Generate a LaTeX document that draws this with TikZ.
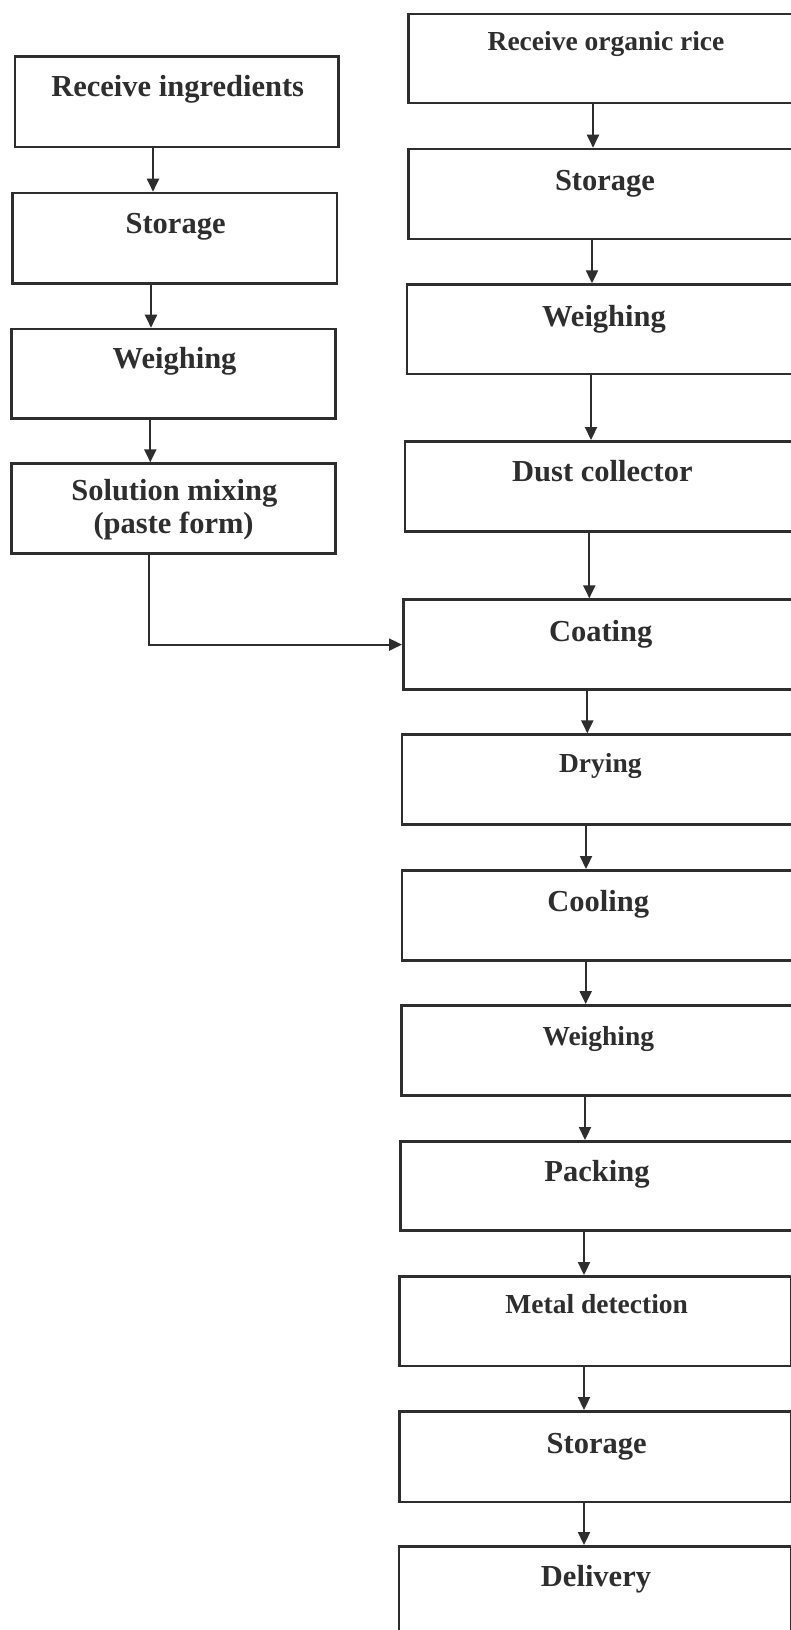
\documentclass[tikz,border=0pt]{standalone}
\usepackage{fontspec}
\setmainfont{Liberation Serif}
\usetikzlibrary{arrows.meta}
\definecolor{ink}{HTML}{2E2E2E}
\begin{document}
\begin{tikzpicture}[x=1pt,y=-1pt,
  box/.style={draw=ink, line width=2.6pt, rectangle, anchor=north west, inner sep=0pt, fill=none},
  big/.style={anchor=base, inner sep=0pt, text=ink, font=\bfseries\fontsize{30.5}{33.5}\selectfont, align=center},
  small/.style={anchor=base, inner sep=0pt, text=ink, font=\bfseries\fontsize{27.5}{31}\selectfont},
  arr/.style={draw=ink, line width=2.2pt, -{Triangle[length=13pt,width=12pt]}}]
\useasboundingbox (0,0) rectangle (791,1630);
\fill[white] (0,0) rectangle (791,1630);
% left column
\node[box, minimum width=323.4pt, minimum height=90.7pt] (l1) at (13.6,55) {};
\node[box, minimum width=324.5pt, minimum height=90.6pt] (l2) at (11,191.7) {};
\node[box, minimum width=324pt, minimum height=89.6pt] (l3) at (10,327.7) {};
\node[box, minimum width=324pt, minimum height=90pt] (l4) at (10,462.3) {};
\node[big] (l1t) at (177.7,96.7) {Receive ingredients};
\node[big] (l2t) at (175.6,233.3) {Storage};
\node[big] (l3t) at (174.6,368.3) {Weighing};
\node[big] (l4t) at (174.3,500) {Solution mixing};
\node[big] (l4u) at (173.6,533.3) {(paste form)};
% right column
\node[box, minimum width=393pt, minimum height=89pt] (r1) at (407,12.7) {};
\node[box, minimum width=393pt, minimum height=90pt] (r2) at (407,147.7) {};
\node[box, minimum width=395pt, minimum height=89.4pt] (r3) at (405.5,283.3) {};
\node[box, minimum width=397pt, minimum height=90pt] (r4) at (403.6,440) {};
\node[box, minimum width=398pt, minimum height=90pt] (r5) at (402,598.3) {};
\node[box, minimum width=399pt, minimum height=90pt] (r6) at (400.7,733.3) {};
\node[box, minimum width=400pt, minimum height=90.3pt] (r7) at (400.5,869) {};
\node[box, minimum width=400pt, minimum height=90.3pt] (r8) at (400,1004) {};
\node[box, minimum width=401pt, minimum height=89.3pt] (r9) at (399,1140) {};
\node[box, minimum width=391.2pt, minimum height=89.5pt] (r10) at (398.3,1275) {};
\node[box, minimum width=391.5pt, minimum height=90.7pt] (r11) at (398,1410) {};
\node[box, minimum width=392pt, minimum height=100pt] (r12) at (397.5,1545) {};
\node[small] (r1t) at (606,50.7) {Receive organic rice};
\node[big] (r2t) at (605,190) {Storage};
\node[big] (r3t) at (604,326.7) {Weighing};
\node[big] (r4t) at (602.4,481.7) {Dust collector};
\node[big] (r5t) at (600.7,641.7) {Coating};
\node[small] (r6t) at (600.3,772.7) {Drying};
\node[big] (r7t) at (598.3,911.7) {Cooling};
\node[small] (r8t) at (598.3,1045) {Weighing};
\node[big] (r9t) at (597,1181.7) {Packing};
\node[small] (r10t) at (596.7,1313.3) {Metal detection};
\node[big] (r11t) at (596.7,1453.3) {Storage};
\node[big] (r12t) at (596,1586.7) {Delivery};
% connectors, left
\coordinate (xl1) at (153,0);
\coordinate (xl2) at (151,0);
\coordinate (xl3) at (150.3,0);
\coordinate (xl4) at (149,0);
\draw[arr] (l1.south -| xl1) -- (l2.north -| xl1);
\draw[arr] (l2.south -| xl2) -- (l3.north -| xl2);
\draw[arr] (l3.south -| xl3) -- (l4.north -| xl3);
\draw[arr] (l4.south -| xl4) |- (r5.west);
% connectors, right
\coordinate (xr1) at (593,0);
\coordinate (xr2) at (592,0);
\coordinate (xr3) at (591,0);
\coordinate (xr4) at (589.3,0);
\coordinate (xr5) at (587.3,0);
\coordinate (xr6) at (586,0);
\coordinate (xr7) at (585.7,0);
\coordinate (xr8) at (585,0);
\coordinate (xr9) at (584,0);
\coordinate (xr10) at (584,0);
\coordinate (xr11) at (584,0);
\draw[arr] (r1.south -| xr1) -- (r2.north -| xr1);
\draw[arr] (r2.south -| xr2) -- (r3.north -| xr2);
\draw[arr] (r3.south -| xr3) -- (r4.north -| xr3);
\draw[arr] (r4.south -| xr4) -- (r5.north -| xr4);
\draw[arr] (r5.south -| xr5) -- (r6.north -| xr5);
\draw[arr] (r6.south -| xr6) -- (r7.north -| xr6);
\draw[arr] (r7.south -| xr7) -- (r8.north -| xr7);
\draw[arr] (r8.south -| xr8) -- (r9.north -| xr8);
\draw[arr] (r9.south -| xr9) -- (r10.north -| xr9);
\draw[arr] (r10.south -| xr10) -- (r11.north -| xr10);
\draw[arr] (r11.south -| xr11) -- (r12.north -| xr11);
\end{tikzpicture}
\end{document}
